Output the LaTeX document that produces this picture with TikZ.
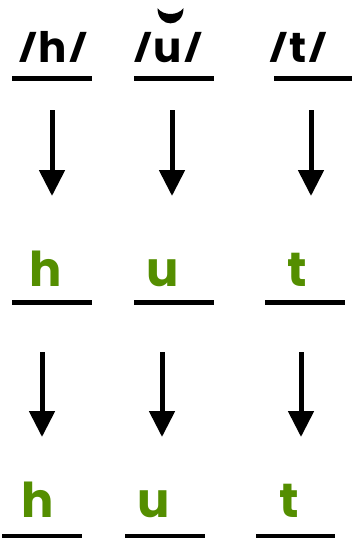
\documentclass[tikz,border=0pt]{standalone}
\usepackage{fontspec}
\setmainfont{Poppins}
\usetikzlibrary{arrows.meta}
\definecolor{leafgreen}{RGB}{84,142,0}
\newcommand{\shortslash}{\raisebox{5pt}{\scalebox{0.95}[0.63]{/}}}
\tikzset{
  phon/.style={anchor=base, inner sep=0pt, font=\fontsize{42}{42}\selectfont\bfseries},
  grapheme/.style={anchor=base, inner sep=0pt, text=leafgreen, font=\fontsize{48}{48}\selectfont\bfseries},
  rule/.style={line width=5pt},
  down/.style={line width=5pt, -{Triangle[width=25pt,length=26pt]}}
}
\begin{document}
\begin{tikzpicture}[x=1pt,y=-1pt]
\useasboundingbox (0,0) rectangle (352,538);
% top row
\node[phon] (ph) at (53,62) {\shortslash\kern2pt h\kern2pt\shortslash};
\node[phon] (pu) at (168,62) {\shortslash\kern2pt u\kern2pt\shortslash};
\node[phon] (pt) at (298,62) {\shortslash\kern2pt t\kern2pt\shortslash};
% breve over u
\fill (157.5,8) .. controls (157.5,28.5) and (183.5,28.5) .. (183.5,8)
      .. controls (178,16) and (163,16) .. (157.5,8) -- cycle;
\draw[rule] (12,78) -- (92,78);
\draw[rule] (134,78) -- (214,78);
\draw[rule] (274,78) -- (354,78);
% arrows 1
\coordinate (a1s) at (52,110); \coordinate (a1e) at (52,196);
\coordinate (a2s) at (172,110); \coordinate (a2e) at (172,196);
\coordinate (a3s) at (311,110); \coordinate (a3e) at (311,196);
\draw[down] (a1s) -- (a1e);
\draw[down] (a2s) -- (a2e);
\draw[down] (a3s) -- (a3e);
% middle row
\node[grapheme] (mh) at (46,286) {h};
\node[grapheme] (mu) at (163,286) {u};
\node[grapheme] (mt) at (297,286) {t};
\draw[rule] (12,302) -- (92,302);
\draw[rule] (134,302) -- (214,302);
\draw[rule] (265,302) -- (345,302);
% arrows 2
\coordinate (b1s) at (42,352); \coordinate (b1e) at (42,437);
\coordinate (b2s) at (162,352); \coordinate (b2e) at (162,437);
\coordinate (b3s) at (301,352); \coordinate (b3e) at (301,437);
\draw[down] (b1s) -- (b1e);
\draw[down] (b2s) -- (b2e);
\draw[down] (b3s) -- (b3e);
% bottom row
\node[grapheme] (bh) at (38,517) {h};
\node[grapheme] (bu) at (154,517) {u};
\node[grapheme] (bt) at (289,517) {t};
\draw[rule] (2,536) -- (82,536);
\draw[rule] (125,536) -- (205,536);
\draw[rule] (256,536) -- (335,536);
\end{tikzpicture}
\end{document}
